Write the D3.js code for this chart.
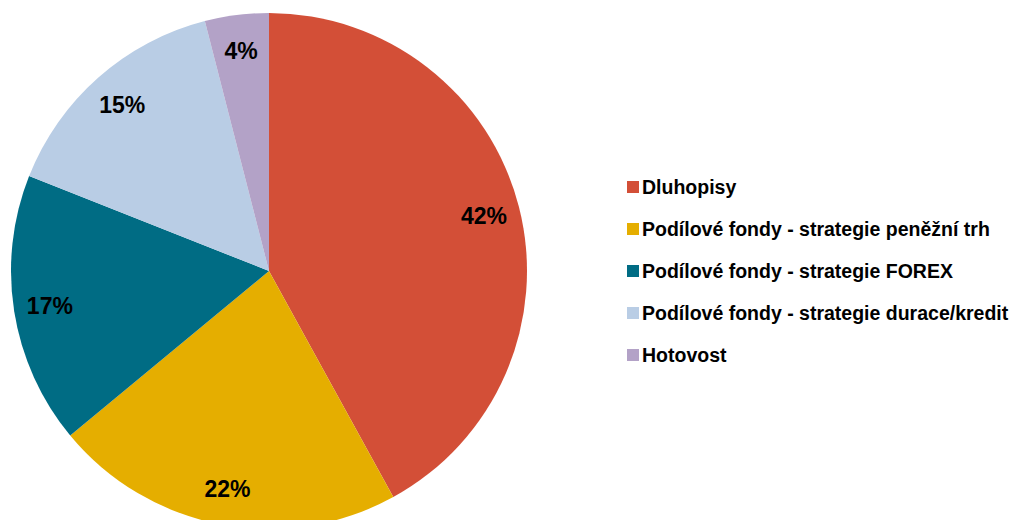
<!DOCTYPE html>
<html><head><meta charset="utf-8">
<script src="https://cdn.jsdelivr.net/npm/d3@7"></script>
<style>body{margin:0;background:#fff}svg{display:block}</style>
</head><body>
<svg id="c" width="1020" height="520"></svg>
<script>
const categories = ["Dluhopisy","Podílové fondy - strategie peněžní trh","Podílové fondy - strategie FOREX","Podílové fondy - strategie durace/kredit","Hotovost"];
const values = [42,22,17,15,4];
const labels = ["42%","22%","17%","15%","4%"];
const colors = ["#D34F37","#E5AE00","#006C84","#B9CDE5","#B3A2C7"];

const svg = d3.select("#c");
const cx = 269, cy = 271, R = 258;
const font = "'Liberation Sans', Arial, sans-serif";
const pie = d3.pie().sort(null).value(d=>d)(values);
const arc = d3.arc().innerRadius(0).outerRadius(R);
const labelArc = d3.arc().innerRadius(R*0.86).outerRadius(R*0.86);
const g = svg.append("g").attr("transform",`translate(${cx},${cy})`);
g.selectAll("path").data(pie).join("path").attr("d",arc).attr("fill",(d,i)=>colors[i]);
g.selectAll("text").data(pie).join("text")
 .attr("transform",d=>`translate(${labelArc.centroid(d)})`)
 .attr("text-anchor","middle").attr("dy","0.36em")
 .attr("font-family",font).attr("font-weight","bold").attr("font-size",23)
 .text((d,i)=>labels[i]);

const color = d3.scaleOrdinal().domain(categories).range(colors);
const ly = d3.scalePoint().domain(categories).range([187,355]);
const leg = svg.append("g");
const rows = leg.selectAll("g").data(categories).join("g").attr("transform",d=>`translate(627,${ly(d)})`);
rows.append("rect").attr("x",0).attr("y",-6).attr("width",12).attr("height",12).attr("fill",d=>color(d));
rows.append("text").attr("x",15).attr("dy","0.36em")
 .attr("font-family",font).attr("font-weight","bold").attr("font-size",19.5).text(d=>d);
</script>
</body></html>
